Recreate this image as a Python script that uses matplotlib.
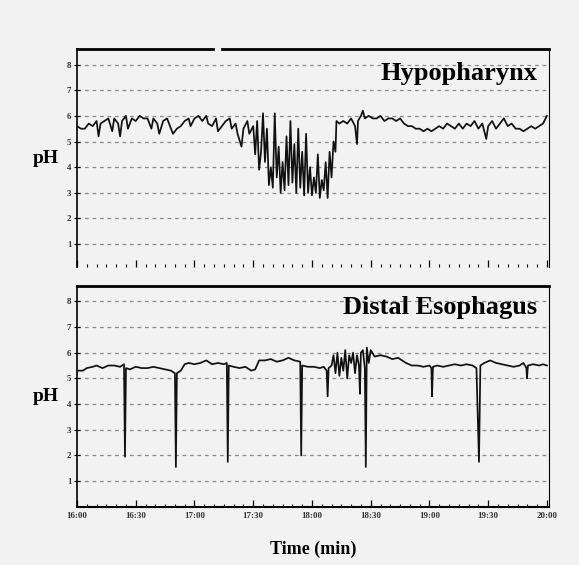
import matplotlib
matplotlib.use("Agg")
import matplotlib.pyplot as plt
from matplotlib.ticker import MultipleLocator

# time in minutes from 16:00, pH readings
hypo_t = [0, 2, 4, 6, 8, 10, 11, 12, 14, 16, 18, 19, 21, 22, 23, 25, 26, 28, 30, 32,
          34, 36, 38, 39, 41, 42, 44, 46, 48, 49, 51, 53, 55, 57, 58, 60, 62, 64, 66, 67,
          69, 71, 72, 74, 76, 78, 79, 81, 82, 84, 85, 87, 88, 90, 91, 92, 93, 94, 95, 96,
          97, 98, 99, 100, 101, 102, 103, 104, 105, 106, 107, 108, 109, 110, 111, 112, 113, 114, 115, 116,
          117, 118, 119, 120, 121, 122, 123, 124, 125, 126, 127, 128, 129, 130, 131, 132, 132.5, 134, 136, 138,
          140, 142, 143, 143.5, 145, 146, 147, 149, 151, 153, 155, 157, 159, 161, 163, 165, 167, 169, 171, 173,
          175, 177, 179, 181, 183, 185, 187, 189, 191, 193, 195, 197, 199, 201, 203, 205, 207, 209, 210, 212,
          214, 216, 218, 220, 222, 224, 226, 228, 230, 232, 234, 236, 238, 240]
hypo_ph = [5.6, 5.5, 5.5, 5.7, 5.6, 5.8, 5.2, 5.7, 5.8, 5.9, 5.4, 5.9, 5.7, 5.2, 5.8, 6.0, 5.5, 5.9, 5.8, 6.0,
           5.9, 5.9, 5.5, 5.9, 5.7, 5.3, 5.8, 5.9, 5.5, 5.3, 5.5, 5.6, 5.8, 5.9, 5.6, 5.9, 6.0, 5.8, 6.0, 5.7,
           5.6, 5.9, 5.4, 5.6, 5.8, 5.9, 5.5, 5.7, 5.3, 4.8, 5.5, 5.8, 5.3, 5.6, 4.5, 5.8, 3.9, 4.6, 6.1, 4.2,
           5.5, 3.3, 4.0, 3.2, 6.1, 3.6, 4.8, 3.0, 4.2, 3.1, 5.2, 3.3, 5.8, 3.4, 4.9, 3.0, 5.5, 3.2, 4.6, 2.9,
           5.3, 3.0, 4.0, 2.9, 3.6, 3.0, 4.5, 2.8, 3.5, 3.1, 4.2, 2.8, 4.6, 3.6, 5.0, 4.6, 5.8, 5.7, 5.8, 5.7,
           5.9, 5.6, 4.9, 5.8, 6.0, 6.2, 5.9, 6.0, 5.9, 5.9, 6.0, 5.8, 5.9, 5.9, 5.8, 5.9, 5.7, 5.6, 5.6, 5.5,
           5.5, 5.4, 5.5, 5.4, 5.5, 5.6, 5.5, 5.7, 5.6, 5.5, 5.7, 5.5, 5.7, 5.6, 5.8, 5.5, 5.7, 5.1, 5.6, 5.8,
           5.5, 5.7, 5.9, 5.6, 5.7, 5.5, 5.5, 5.4, 5.5, 5.6, 5.5, 5.6, 5.7, 6.0]

eso_t = [0, 3, 5, 8, 10, 13, 16, 19, 22, 24, 24.5, 25, 27, 30, 33, 36, 39, 42, 45, 48,
         50, 50.5, 51, 53, 55, 57, 60, 63, 66, 69, 72, 75, 76.5, 77, 77.5, 80, 83, 86, 89, 91,
         93, 96, 99, 102, 105, 108, 111, 114, 114.5, 115, 118, 121, 124, 126, 127.5, 128, 128.5, 130, 131, 132,
         133, 134, 135, 136, 137, 138, 139, 140, 141, 142, 143, 144, 144.5, 145, 146, 147, 147.5, 148, 149, 150,
         152, 155, 158, 161, 164, 166, 168, 171, 174, 177, 180, 181, 181.3, 181.8, 184, 187, 190, 193, 196, 199,
         202, 204, 205.3, 206, 208, 211, 214, 217, 220, 223, 226, 228, 229.5, 229.8, 230.3, 233, 236, 238, 240]
eso_ph = [5.3, 5.3, 5.4, 5.45, 5.5, 5.4, 5.5, 5.5, 5.45, 5.55, 1.95, 5.4, 5.35, 5.45, 5.4, 5.4, 5.45, 5.4, 5.35, 5.3,
          5.2, 1.55, 5.2, 5.3, 5.55, 5.6, 5.55, 5.6, 5.7, 5.55, 5.6, 5.55, 5.6, 1.75, 5.5, 5.45, 5.4, 5.45, 5.3, 5.35,
          5.7, 5.7, 5.75, 5.65, 5.7, 5.8, 5.7, 5.65, 2.0, 5.5, 5.45, 5.45, 5.4, 5.45, 5.3, 4.3, 5.4, 5.5, 5.9, 5.2,
          6.0, 5.1, 5.8, 5.3, 6.1, 5.0, 5.9, 5.6, 6.0, 5.2, 5.9, 5.5, 4.4, 6.0, 6.1, 5.4, 1.55, 6.2, 5.6, 6.1,
          5.85, 5.9, 5.85, 5.75, 5.8, 5.7, 5.6, 5.5, 5.5, 5.45, 5.5, 5.4, 4.3, 5.45, 5.5, 5.45, 5.5, 5.55, 5.5, 5.55,
          5.5, 5.4, 1.75, 5.5, 5.6, 5.7, 5.6, 5.55, 5.5, 5.45, 5.5, 5.6, 5.4, 5.0, 5.5, 5.55, 5.5, 5.55, 5.5]

x_ticks = [0, 30, 60, 90, 120, 150, 180, 210, 240]
x_labels = ['16:00', '16:30', '17:00', '17:30', '18:00', '18:30', '19:00', '19:30', '20:00']
y_ticks = [1, 2, 3, 4, 5, 6, 7, 8]

bg = '#f2f2f2'
serif = 'Liberation Serif'

fig = plt.figure(figsize=(5.79, 5.65), dpi=100, facecolor=bg)
ax1 = fig.add_axes([0.133, 0.527, 0.815, 0.386])
ax2 = fig.add_axes([0.133, 0.103, 0.815, 0.391])


def style_axis(ax, title, title_y, show_xlabels):
    ax.set_facecolor(bg)
    ax.set_xlim(0, 241)
    ax.set_yticks(y_ticks)
    ax.set_yticklabels([str(v) for v in y_ticks], fontsize=6.5, family=serif,
                       fontweight='bold', color='#333333')
    ax.set_xticks(x_ticks)
    ax.xaxis.set_minor_locator(MultipleLocator(5))
    ax.tick_params(axis='y', direction='inout', length=4, width=0.8, pad=2)
    ax.tick_params(axis='x', which='major', direction='in', length=5, width=0.9)
    ax.tick_params(axis='x', which='minor', direction='in', length=2.5, width=0.8)
    if show_xlabels:
        ax.set_xticklabels(x_labels, fontsize=6.5, family=serif, fontweight='bold',
                           color='#333333')
    else:
        ax.set_xticklabels([])
    for y in y_ticks:
        ax.axhline(y, color='#8a8a8a', lw=0.9, ls=(0, (3, 3)), zorder=1)
    ax.spines['left'].set_linewidth(1.2)
    ax.spines['right'].set_linewidth(0.8)
    ax.spines['top'].set_linewidth(2.0)
    ax.text(0.975, title_y, title, transform=ax.transAxes, ha='right', va='center',
            fontsize=19, fontweight='bold', family=serif)
    ax.set_ylabel('pH', rotation=0, fontsize=14, fontweight='bold', family=serif,
                  labelpad=15, va='center')


ax1.plot(hypo_t, hypo_ph, color='#111111', lw=1.25, zorder=3)
ax1.set_ylim(0.1, 8.6)
style_axis(ax1, 'Hypopharynx', 0.89, False)
ax1.spines['bottom'].set_visible(False)
ax1.spines['top'].set_visible(False)
ax1.plot([0, 0.288], [1, 1], color='black', lw=2.0, transform=ax1.transAxes, clip_on=False)
ax1.plot([0.307, 1], [1, 1], color='black', lw=2.0, transform=ax1.transAxes, clip_on=False)

ax2.plot(eso_t, eso_ph, color='#111111', lw=1.25, zorder=3)
ax2.set_ylim(0.0, 8.6)
style_axis(ax2, 'Distal Esophagus', 0.90, True)
ax2.spines['bottom'].set_linewidth(1.5)
ax2.set_xlabel('Time (min)', fontsize=13, fontweight='bold', family=serif, labelpad=15)

fig.savefig('out.png', dpi=100, facecolor=bg)
